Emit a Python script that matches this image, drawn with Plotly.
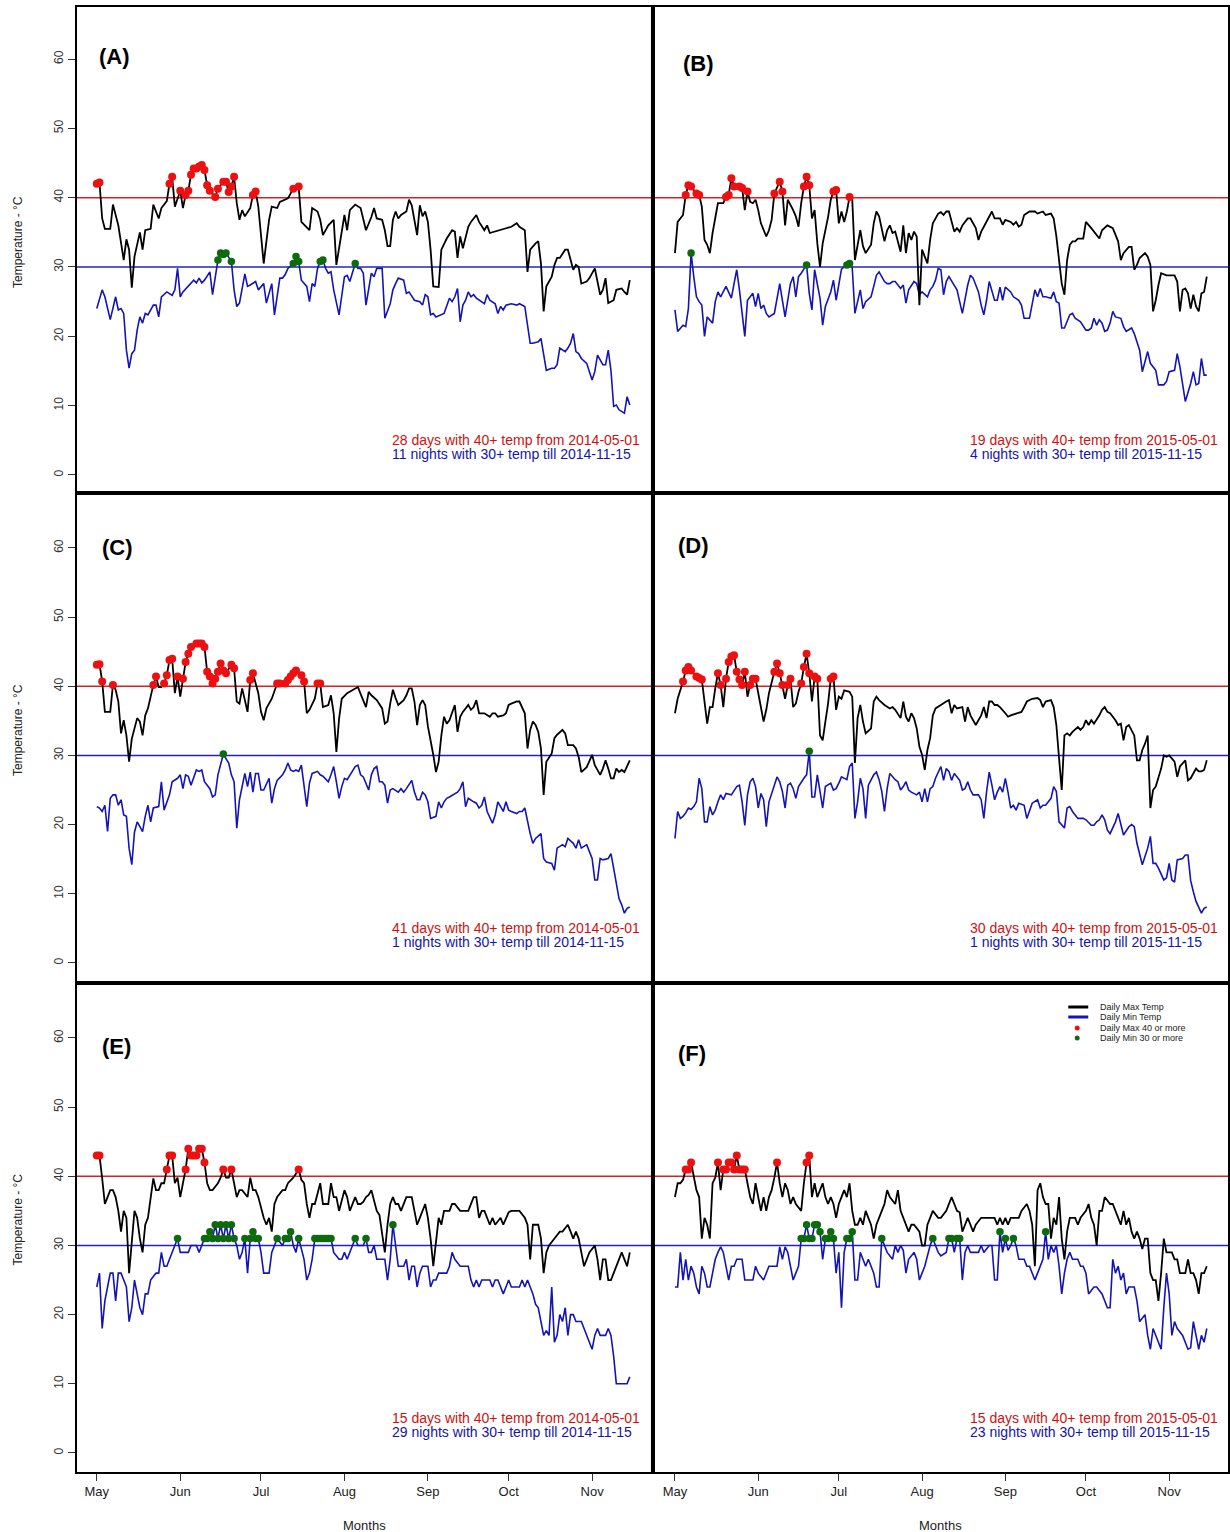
import plotly.graph_objects as go

# ---------------- data ----------------
# day index: 0 = 1 May, 198 = 15 Nov
MONTH_LABELS = ["May", "Jun", "Jul", "Aug", "Sep", "Oct", "Nov"]
MONTH_DAYS = [0, 31, 61, 92, 123, 153, 184]
PANEL_LABELS = ["(A)", "(B)", "(C)", "(D)", "(E)", "(F)"]
HOT_TEXT = [
    "28 days with 40+ temp from 2014-05-01",
    "19 days with 40+ temp from 2015-05-01",
    "41 days with 40+ temp from 2014-05-01",
    "30 days with 40+ temp from 2015-05-01",
    "15 days with 40+ temp from 2014-05-01",
    "15 days with 40+ temp from 2015-05-01",
]
WARM_TEXT = [
    "11 nights with 30+ temp till 2014-11-15",
    "4 nights with 30+ temp till 2015-11-15",
    "1 nights with 30+ temp till 2014-11-15",
    "1 nights with 30+ temp till 2015-11-15",
    "29 nights with 30+ temp till 2014-11-15",
    "23 nights with 30+ temp till 2015-11-15",
]
LEGEND_TEXT = ["Daily Max Temp", "Daily Min Temp", "Daily Max 40 or more", "Daily Min 30 or more"]
MAX_LIMIT = 40
MIN_LIMIT = 30
Y_TICKS = [0, 10, 20, 30, 40, 50, 60]

A_MAX = [(0,42),(1,42.2),(2,37),(3,35.5),(5,35.5),(6,39),(8,36),(10,31),(11,34),(12,32.5),(13,27),(14,31.5),(16,35),(17,32.5),(18,35.3),(20,35.5),(21,39),(23,37),(24,38.5),(26,39.5),(27,42),(28,43),(29,38.7),(31,41),(32,38.5),(33,40.4),(34,41),(35,43.3),(36,44.2),(37,44.2),(38,44.5),(39,44.7),(40,44),(41,41.8),(42,41),(44,40.1),(45,41.3),(47,42.3),(48,42.3),(49,40.8),(50,41.6),(51,43),(52,39.2),(53,36.8),(54,38.2),(55,37.3),(57,38.5),(58,40.4),(59,40.9),(60,38.7),(62,30.5),(63,33.9),(64,36.8),(65,38.7),(67,38.5),(68,39.4),(70,39.7),(71,39.9),(73,41.3),(75,41.6),(76,36.5),(79,35.3),(80,38.5),(82,38),(83,36.8),(84,34.6),(86,36),(88,36.8),(89,30.3),(91,34.9),(92,37.5),(93,35.3),(94,38.2),(96,39),(98,38.5),(100,35.3),(102,37.2),(103,38.5),(104,37),(106,36.8),(107,35.3),(108,33),(109,33),(110,36.8),(111,38),(112,37),(113,37.5),(115,38),(116,39.7),(117,38.9),(118,36.8),(119,34.6),(120,38.9),(121,37.3),(122,38),(123,36.5),(124,32.5),(125,27.2),(127,27.1),(128,32.5),(130,34.1),(132,35.3),(133,35.1),(134,31.3),(135,34.4),(136,32.7),(138,35.8),(139,36.5),(141,37.5),(142,36.5),(144,35.3),(145,36),(146,34.9),(148,35.1),(150,35.3),(152,35.6),(154,35.8),(156,36.3),(157,35.8),(159,35.3),(160,29.3),(161,32.5),(162,33),(163,33.4),(164,33.7),(165,30.5),(166,23.6),(167,27.2),(169,28.6),(170,30.3),(171,31.3),(172,31.3),(174,32.5),(175,32.5),(177,29.6),(178,30.3),(179,30),(180,27.6),(182,27.9),(183,28.4),(185,29.8),(186,27.6),(187,26),(188,26.7),(189,28.4),(190,24.8),(192,25.2),(193,26.7),(195,26.9),(196,26.4),(197,26),(198,28.1)]
A_MIN = [(0,24),(2,26.7),(3,25.7),(5,22.4),(7,25.7),(8,23.8),(9,24),(10,23.3),(11,18),(12,15.4),(13,17.5),(14,18),(15,20.9),(16,22.8),(17,21.9),(18,23.3),(19,23.1),(21,24.5),(22,24.5),(23,22.8),(24,25.7),(26,26.4),(28,25.9),(29,26.7),(30,29.8),(31,25.7),(32,26.4),(34,27.2),(36,28.1),(37,27.7),(38,28.4),(39,27.7),(40,28.1),(42,29.3),(43,26),(45,31),(46,32),(47,31.8),(48,32),(50,30.8),(51,26.7),(52,24.3),(53,24.8),(55,29),(56,27.2),(57,27.4),(59,27.9),(60,26.7),(62,27.6),(63,24.8),(65,27.6),(66,23.1),(68,28.4),(69,28.4),(70,28.9),(71,29.8),(73,30.5),(74,31.5),(75,30.8),(76,28.1),(78,27.2),(79,25),(80,27.6),(81,27.2),(82,29.8),(83,30.8),(84,31),(85,29.8),(86,29.1),(87,29.3),(88,26.7),(90,23.1),(91,25.7),(92,28.6),(93,28.8),(94,27.9),(96,30.5),(97,29.8),(98,29.8),(99,29.1),(100,24.5),(102,29.1),(103,28.6),(104,29.8),(106,29.8),(107,22.6),(109,24.7),(110,26.7),(111,27.6),(112,28.4),(114,28.1),(115,26.2),(116,26.4),(117,25.7),(118,25.2),(120,25),(121,24.5),(122,26),(123,25.7),(124,23.1),(125,23.3),(126,22.8),(128,23.1),(129,23.3),(131,25.5),(132,25),(133,25.7),(134,26.9),(135,22.1),(136,24.5),(137,25.2),(138,26.4),(139,25.7),(140,26),(141,25.5),(143,25),(144,24.7),(145,26),(146,25.2),(148,24.7),(149,23.3),(150,24.3),(151,23.8),(152,24.5),(154,24.7),(156,24.5),(157,24.7),(159,24.3),(160,21.9),(161,19),(162,19),(164,19.2),(165,19.7),(166,17.1),(167,15.1),(169,15.4),(170,15.4),(171,15.9),(172,18.3),(174,17.8),(175,18.3),(176,19),(177,20.4),(178,17.8),(179,17.5),(180,16.8),(182,16.1),(183,14.9),(184,13.7),(185,14.9),(186,17.3),(188,15.9),(189,15.9),(190,18),(191,15.1),(192,9.9),(193,10.1),(194,9.4),(196,8.9),(197,11.3),(198,10.1)]

B_MAX = [(0,32),(1,36.5),(3,37.5),(4,40.4),(5,41.8),(6,41.6),(8,40.6),(9,40.4),(10,38.7),(11,33.9),(12,33.2),(13,32),(14,34.9),(15,36.8),(16,39.2),(18,39.2),(19,40.1),(20,40.4),(21,42.8),(22,41.6),(24,41.6),(25,41.4),(26,38.2),(27,40.9),(28,39.4),(29,39.2),(30,39.7),(31,38.2),(32,36.3),(34,34.4),(35,35.3),(36,36.8),(37,40.6),(39,42.3),(40,40.9),(41,36),(42,39.7),(44,38.2),(45,37.3),(46,35.8),(47,39.2),(48,41.6),(49,43),(50,41.8),(51,37),(52,38.2),(53,33.4),(54,30),(55,33.4),(57,37.2),(58,39.7),(59,40.9),(60,41.1),(61,36.3),(62,38),(63,36.5),(64,38),(65,40.1),(66,39.7),(67,31),(68,33.4),(69,35.3),(70,33),(71,32),(73,33.2),(74,36.3),(75,38),(76,37.3),(78,33.7),(79,35.3),(80,36),(81,34.9),(82,35.1),(84,32.2),(85,36),(86,32),(87,34.9),(88,33.9),(89,35.1),(90,34.4),(91,24.5),(92,32.5),(93,31.5),(94,30.5),(95,33.9),(96,36.3),(98,37.7),(99,37.9),(100,37.5),(101,38),(102,38),(103,36.5),(104,35.1),(105,35.6),(106,35.1),(107,36),(109,37),(110,37),(112,35.6),(113,33.9),(114,35.1),(115,35.8),(117,37.2),(118,38),(119,37),(121,37),(122,36.1),(123,36.8),(125,36.5),(126,36.1),(127,36.5),(128,35.8),(129,36.1),(130,37.5),(132,38),(134,38),(135,37.7),(137,38),(138,37.5),(140,37.7),(141,37),(142,34.4),(143,31),(144,27.6),(145,26),(146,31),(147,33.2),(148,33.7),(149,33.7),(150,34.1),(152,34.1),(153,36.5),(155,35.6),(156,35.1),(157,34.6),(158,34.1),(159,35.3),(160,35.6),(161,36),(163,35.6),(164,34.6),(165,33.7),(166,31),(167,32),(169,32.9),(170,32.9),(171,29.6),(172,30.3),(173,31.3),(175,32),(176,31.5),(177,30.3),(178,23.6),(179,25.2),(180,27.4),(181,29.1),(183,28.8),(185,28.8),(186,28.8),(187,27.9),(188,23.6),(189,26.7),(190,26.9),(191,26.2),(192,24),(193,26),(194,24.3),(195,23.6),(196,26.2),(197,26.4),(198,28.6)]
B_MIN = [(0,23.8),(1,20.7),(3,21.6),(4,21.4),(5,24),(6,32),(7,28.6),(8,25.7),(9,25),(10,24.5),(11,20),(12,22.8),(14,21.9),(15,25),(16,26.4),(17,25.7),(19,27.2),(21,25.5),(22,27.6),(23,29.6),(24,26.7),(25,23.3),(26,20),(27,25.2),(29,26.2),(30,24.3),(31,26.2),(32,24),(33,24.5),(34,23.3),(35,22.8),(37,23.3),(38,25.2),(39,27.6),(40,25.2),(41,22.8),(43,27.6),(44,28.6),(45,25.7),(46,28.6),(47,29.1),(48,29.8),(49,30.3),(50,26.2),(51,23.8),(52,29.6),(54,25.5),(55,21.6),(56,24.3),(58,26.4),(59,28.1),(60,25.2),(61,27.6),(62,29.7),(64,30.3),(65,30.5),(66,29.9),(67,23.3),(69,26.7),(70,24),(71,25),(73,25.7),(74,27.2),(75,28.8),(76,29.3),(78,27.9),(79,27.6),(80,27.6),(81,27.9),(82,27.9),(84,26.9),(85,27.4),(86,24.8),(87,26.7),(89,27.9),(90,27.6),(91,26),(92,26.4),(94,25.7),(95,26.7),(96,27.2),(97,28.1),(98,29.8),(99,29.6),(100,26),(101,27.9),(102,28.6),(104,27.4),(105,26.7),(106,25),(107,23.3),(109,27.4),(110,28.8),(111,28.4),(113,26.4),(114,24.5),(115,23.1),(116,25.2),(117,27.9),(119,25.2),(120,25.2),(121,27.1),(122,25.2),(123,27.1),(125,26.4),(126,25.7),(128,25.2),(129,24.5),(130,22.6),(132,22.6),(133,24.8),(134,26.7),(135,25.7),(136,26.9),(137,25.7),(138,25.7),(140,25.5),(141,26.4),(142,25),(143,24.8),(144,21.2),(145,21.2),(147,23.1),(148,23.3),(149,22.6),(150,22.4),(151,22.1),(153,20.9),(154,20.9),(155,21.2),(156,22.6),(157,21.6),(158,22.4),(159,21.9),(160,20.7),(161,20.9),(162,21.9),(163,23.6),(164,22.8),(166,22.6),(167,21.4),(168,20.7),(170,21.2),(171,20.4),(172,19.2),(173,18),(174,14.9),(176,17.8),(177,16.1),(179,15.1),(180,13),(182,13),(183,13.5),(184,14.9),(186,15.1),(187,17.5),(188,15.6),(189,13.2),(190,10.6),(192,13.2),(193,14.9),(194,13),(195,13.2),(196,16.8),(197,14.4),(198,14.4)]

C_MAX = [(0,43.1),(1,43.2),(2,40.7),(3,36.3),(5,36.3),(6,40.2),(7,39.5),(8,37.8),(9,33.2),(10,35.1),(11,32.9),(12,29.1),(13,32.4),(15,35.4),(16,34.9),(17,32.9),(18,35.8),(19,36.8),(21,40.2),(22,41.4),(23,39.9),(24,39.9),(25,40.4),(26,41.6),(27,43.8),(28,44),(29,39),(30,41.4),(31,38.5),(32,41.1),(33,43.5),(34,44.7),(35,45.7),(37,46.2),(38,46.2),(39,46.2),(40,45.7),(41,42.1),(42,41.4),(43,40.4),(44,41.1),(45,42.1),(46,43.3),(47,42.3),(48,41.9),(50,43.1),(51,42.6),(52,37.8),(53,37.5),(54,39.7),(55,38),(56,36.3),(57,40.9),(58,41.9),(60,39),(61,36.3),(62,35.1),(63,36.8),(65,38.2),(66,39.2),(67,40.4),(68,40.4),(70,40.4),(71,40.9),(72,41.4),(73,41.9),(74,42.3),(76,41.6),(77,40.7),(78,36.1),(79,36.6),(81,38.2),(82,40.4),(83,40.4),(84,37),(86,37.3),(87,38.7),(88,36.1),(89,30.5),(90,35.3),(91,38.2),(93,39),(95,39.5),(97,39.9),(98,38.9),(100,37),(101,39.2),(102,38.7),(104,38),(105,37.3),(106,36.8),(107,34.6),(108,34.9),(109,37.5),(110,39.5),(111,38.3),(112,37.3),(114,38),(115,38.7),(116,39.7),(117,39.7),(118,37.8),(119,34.4),(120,37.3),(121,38),(122,37.3),(123,34.2),(125,30.1),(126,27.6),(127,29.1),(128,32.9),(129,35.6),(130,34.6),(131,35.1),(132,36.3),(133,37.3),(134,33.4),(135,35.6),(136,36.3),(138,37.3),(139,36.6),(140,37),(141,38),(142,36.1),(144,36.1),(146,35.6),(147,36.1),(148,36.1),(149,35.6),(151,35.8),(152,36.1),(153,37.3),(154,37.5),(156,37.8),(157,37.8),(159,36.1),(160,31),(161,33.7),(162,34.9),(163,34.4),(164,33.4),(165,31),(166,24.3),(167,29.1),(169,30.3),(170,32.5),(171,33),(173,33.7),(174,33.2),(175,31.5),(177,31.5),(178,31),(179,29.8),(180,27.6),(182,28.3),(183,29.1),(184,30.1),(185,28.6),(187,27.2),(188,28.1),(189,29.3),(190,28.1),(191,26.7),(192,26.7),(193,28.1),(194,27.6),(195,27.9),(196,27.6),(198,29.3)]
C_MIN = [(0,22.6),(1,22.4),(2,21.9),(3,22.8),(4,19),(5,23.8),(6,24.3),(7,24.3),(8,22.8),(9,23.6),(10,21.4),(11,21.2),(12,16.6),(13,14.2),(14,18.9),(15,20.4),(16,19.7),(17,19),(18,21.2),(19,22.8),(20,20.4),(21,22.4),(23,22.6),(24,26.2),(25,22.1),(27,24.3),(28,26.2),(29,26.4),(30,26.7),(31,27.2),(32,25.2),(33,27.2),(34,27),(35,25.7),(36,26.7),(37,27.9),(38,27.7),(39,27.9),(40,26.2),(42,25.2),(43,24),(44,24.3),(45,27.2),(47,30.2),(49,28.9),(50,27.2),(51,26.2),(52,19.5),(53,23.6),(55,27.4),(56,25.5),(57,27.6),(58,24.7),(59,27.4),(60,27.4),(61,25),(62,25),(64,26.7),(65,23.1),(66,25.2),(67,26.4),(69,27.2),(70,27.9),(71,28.9),(72,27.9),(73,27.7),(74,27.9),(75,27.7),(76,28.6),(77,25.7),(78,22.6),(79,26),(80,27.4),(82,27.7),(83,27.2),(84,27),(86,26.2),(87,27.2),(88,28.4),(89,26.2),(90,23.8),(91,25.5),(92,26.7),(93,26.5),(94,27.2),(96,28.4),(97,28.6),(98,27.2),(99,26.9),(101,25),(102,27.2),(103,28.1),(104,28.4),(105,26.2),(106,26.2),(107,25.7),(108,23.1),(109,25),(110,25.2),(112,24.7),(113,25.2),(114,24.7),(115,25.2),(117,26.4),(118,24.7),(119,23.6),(120,23.6),(121,24.7),(122,24.3),(123,23.3),(124,20.9),(126,21.2),(127,23.3),(128,22.4),(129,23.3),(130,23.8),(131,24),(133,24.5),(134,24.7),(135,25.2),(136,26.2),(137,22.6),(138,23.8),(140,23.3),(141,23.1),(142,22.4),(143,22.8),(144,24),(145,21.9),(147,20.2),(148,21.4),(149,23.3),(151,21.9),(152,23.3),(153,22.1),(154,21.9),(156,21.6),(157,21.9),(158,21.9),(159,22.4),(160,20.4),(161,18.7),(162,17.3),(163,18),(165,18.7),(166,15.1),(167,14.6),(169,14.4),(170,13.4),(171,16.6),(173,17.1),(174,16.8),(175,18),(177,17.3),(178,16.6),(179,17.8),(180,16.6),(182,17.1),(183,16.1),(184,15.1),(185,12),(186,12),(187,15.1),(188,14.9),(190,15.1),(191,15.8),(192,13.7),(193,11.5),(194,9.3),(195,8.4),(196,7.2),(197,7.9),(198,8.1)]

D_MAX = [(0,36.1),(1,38.2),(3,40.7),(4,42.3),(5,42.8),(6,42.3),(8,41.4),(9,41.2),(10,41),(11,37.8),(12,34.6),(13,37),(14,37),(15,39.7),(16,41.9),(17,40.2),(18,37),(19,41.1),(20,43.5),(21,44.3),(22,44.5),(23,42.1),(24,41),(25,40.2),(26,42.1),(27,38.5),(28,40.2),(29,41.1),(30,41.1),(31,39),(33,34.9),(34,36.6),(35,39),(37,42.1),(38,43.3),(39,41.9),(40,40.2),(41,38.2),(42,40.2),(43,41.1),(44,37),(45,37.5),(46,39.2),(47,40.4),(48,42.8),(49,44.7),(50,41.9),(51,37.8),(52,41.4),(53,41.1),(54,32.9),(55,32.2),(56,34.9),(57,37.5),(58,41.1),(59,41.4),(60,36.6),(61,38.5),(62,38.2),(63,39.4),(65,39.2),(66,38.5),(67,28.9),(68,35.4),(69,37.3),(70,34.9),(71,33.2),(73,33.9),(74,37.8),(75,38.5),(76,38),(78,37.3),(80,36.8),(81,37),(82,36.6),(84,35.4),(85,37.8),(86,35.6),(87,34.9),(88,36.1),(89,35.4),(90,33.9),(91,31.3),(92,30.1),(93,27.9),(94,30.8),(95,32.5),(96,35.8),(97,36.8),(98,37),(99,37.3),(101,37.8),(102,38),(103,36.1),(104,37.3),(105,36.8),(107,37),(108,34.9),(109,37),(110,35.8),(111,35.1),(112,34.4),(114,35.8),(115,37),(116,35.4),(117,37.8),(118,37.8),(119,37.3),(120,37.3),(121,37),(123,36.1),(124,35.6),(125,35.8),(127,36.1),(129,36.3),(130,37),(131,37.8),(133,38.2),(135,38.3),(136,38),(137,37),(138,37.8),(140,38),(141,37),(142,34.4),(143,29.6),(144,25),(145,32.9),(146,33.2),(147,32.9),(148,33.4),(150,34.1),(151,33.7),(152,34.1),(153,35.1),(154,34.4),(155,35.1),(156,34.6),(158,35.8),(159,36.6),(160,37),(161,36.3),(162,36.1),(164,35.1),(165,34.4),(166,34.6),(167,32.2),(168,34.1),(169,34.4),(171,32.9),(172,29.3),(173,29.3),(174,30.8),(175,31.7),(176,32.9),(177,22.4),(178,25),(179,25.5),(181,28.1),(182,30),(183,29.8),(184,30),(185,29.6),(186,29.1),(187,26.9),(188,28.4),(190,29.3),(191,26.4),(192,26.7),(194,28.1),(195,27.7),(196,27.7),(197,27.9),(198,29.3)]
D_MIN = [(0,18),(1,21.9),(2,20.9),(3,21.2),(4,21.7),(5,22.4),(6,22.2),(7,22.6),(8,23.3),(9,26.7),(10,25.2),(11,20.4),(12,20.4),(13,22.6),(14,21.4),(15,22.1),(16,23.3),(17,24.3),(18,23.6),(19,24.5),(21,24.3),(22,25),(23,25.5),(24,25.7),(25,23.3),(26,19.9),(27,24.3),(28,26.2),(29,26.7),(30,25.5),(31,22.4),(32,24.5),(33,23.6),(34,19.7),(35,23.3),(37,25.7),(38,26.9),(39,26.2),(40,24.8),(41,22.4),(42,25.7),(43,26),(44,25.2),(45,23.8),(46,25.5),(48,26.7),(49,27.2),(50,30.6),(51,24),(52,24),(53,27.2),(54,24.8),(55,22.4),(56,25.5),(58,26),(59,25),(60,25.2),(61,26),(62,26.9),(64,26.5),(65,28.4),(66,28.9),(67,20.9),(68,23.3),(69,26.7),(70,25.2),(71,20.9),(72,25.7),(74,27.2),(75,27.6),(76,26.5),(77,24.8),(78,21.9),(79,25.2),(80,27.4),(82,26.5),(83,26.2),(84,25),(85,25.5),(86,26.2),(87,25),(88,24.7),(90,24.3),(91,24.7),(92,23.3),(93,25.2),(94,23.3),(95,25.2),(96,25.5),(97,26.7),(98,27.5),(99,28.4),(100,26.4),(101,28.1),(102,27.7),(103,26.4),(104,27.4),(105,26.9),(106,26.4),(107,25),(108,25.2),(109,26.2),(110,25),(111,24.3),(113,24.3),(114,23.6),(115,20.9),(116,24.7),(117,27.6),(118,25.7),(119,23.6),(120,24.7),(121,25.5),(122,24.7),(123,26.7),(124,24.7),(125,22.4),(126,22.8),(127,22.1),(128,23.1),(130,22.8),(131,20.9),(132,22.1),(133,23.1),(135,23.6),(136,22.4),(137,22.8),(138,22.8),(140,23.8),(141,25.5),(142,24.8),(143,20.4),(145,19.5),(146,22.4),(147,22.6),(148,21.9),(150,20.9),(151,20.9),(152,20.9),(153,20.7),(155,19.9),(156,19.9),(157,20.4),(158,20.7),(159,21.4),(160,20.7),(161,19.2),(162,18.7),(164,20.4),(165,21.6),(166,20),(167,18.5),(169,19.7),(170,20),(171,19.7),(172,17.3),(174,14.2),(175,15.4),(176,16.6),(177,18.3),(178,14.4),(179,14.4),(180,13.7),(182,12),(183,12.3),(184,14.4),(185,12),(186,11.7),(187,14.9),(189,15.1),(190,15.6),(191,15.6),(192,11.9),(193,10.3),(194,8.9),(196,7.2),(197,7.9),(198,8.1)]

E_MAX = [(0,43),(1,43),(2,39.7),(3,36),(4,37),(5,38),(6,38),(7,37),(8,35),(9,32),(10,35),(11,34),(12,26),(13,30),(14,35),(15,34),(16,31),(17,29),(18,33),(19,34),(20,37),(21,39.7),(22,38),(23,38),(24,39),(25,39),(26,41),(27,43),(28,43),(29,39),(30,39.8),(31,37),(32,39),(33,41),(34,44),(35,43),(36,43),(37,43),(38,44),(39,44),(40,42),(41,39),(42,38),(43,38),(45,39),(46,39.8),(47,41),(48,39.8),(49,39.8),(50,41),(51,39),(52,37),(53,38),(54,38),(56,37),(57,39.8),(58,38),(59,38),(60,37),(62,34),(63,33),(64,34),(65,32),(66,36),(67,37),(69,38),(70,38),(71,39),(73,39.8),(75,41),(76,39.5),(77,39),(78,36),(79,34),(80,36),(81,36),(83,39),(84,36),(86,36),(87,39),(88,37),(89,37),(90,35),(92,38),(93,37),(94,35),(96,37),(97,36),(98,36),(99,36.3),(100,37),(101,37.3),(102,38),(103,36.5),(104,35),(105,34.4),(106,32),(107,29),(108,33),(109,36),(110,37),(111,36),(112,36),(113,35),(115,37),(116,37),(117,37),(118,35),(119,33),(120,34),(122,36),(123,34),(124,31),(125,27),(126,31),(127,34),(128,33),(129,35),(131,35),(132,36),(133,36),(135,35),(136,35),(138,35),(140,37),(141,37),(142,34),(143,35),(144,35),(145,34),(146,33),(147,34),(148,33),(149,33.5),(150,34),(151,33),(152,34),(153,34.8),(154,35),(156,35),(157,35),(159,34),(160,33),(161,28),(162,33),(163,33),(164,33),(165,31),(166,26),(167,29),(168,30),(169,30.5),(170,31),(172,32),(173,32),(175,33),(176,32),(177,31),(178,32),(179,31),(180,29),(181,27),(182,28),(183,29),(185,30),(186,28),(187,25),(188,28),(189,28),(190,25),(191,25),(192,26),(194,28),(195,29),(196,28),(197,27),(198,29)]
E_MIN = [(0,24),(1,26),(2,18),(3,22),(4,24),(5,26),(6,26),(7,22),(8,26),(9,26),(10,25),(11,24),(12,19),(13,21),(14,25),(15,23),(16,21),(17,20),(18,23),(19,23),(20,25),(21,25.5),(22,26),(23,26),(24,29),(25,27),(26,27),(27,28),(28,29),(30,31),(31,29),(32,29),(34,29),(35,30),(37,30),(38,29),(39,30),(40,31),(41,31),(42,32),(43,31),(44,33),(45,31),(46,33),(47,31),(48,33),(49,31),(50,33),(51,31),(52,30),(53,28),(54,29),(55,31),(56,26),(57,31),(58,32),(59,31),(60,31),(61,29),(62,26),(64,26),(65,29),(66,30),(67,31),(69,30),(70,31),(71,31),(72,32),(73,30),(74,29),(75,31),(77,28),(78,25),(79,26),(80,28),(81,31),(82,31),(83,31),(84,31),(85,31),(86,31),(87,31),(88,29),(90,28),(91,28),(92,29),(93,28),(95,30),(96,31),(97,30),(98,30),(99,30),(100,31),(101,29),(102,29),(103,30),(104,28),(106,28),(107,28),(108,25),(109,28),(110,33),(111,30),(112,27),(113,27),(114,27),(115,28),(116,25),(117,27),(118,27),(119,24),(120,26),(121,27),(122,27),(123,27),(124,24),(125,25),(126,25),(127,26),(129,26),(130,26),(131,27),(132,29),(133,28),(135,27),(136,27),(138,27),(139,25),(140,24),(141,25),(142,24),(143,25),(144,25),(146,25),(147,24),(148,25),(149,25),(150,24),(151,23),(152,24),(153,25),(154,24),(156,24),(157,24),(158,25),(159,24),(160,25),(161,24),(162,23),(163,21.5),(164,21),(165,19),(166,17),(167,17.7),(168,17),(169,24),(170,16),(171,17),(172,20),(173,19),(174,21),(175,17),(176,20),(177,20),(178,19),(180,19),(181,18),(182,17),(184,15),(185,17),(186,18),(187,17),(189,17),(190,18),(191,17),(192,14),(193,10),(195,10),(197,10),(198,11)]

F_MAX = [(0,37),(1,39),(2,39),(3,39.5),(4,41),(5,41),(6,42),(7,39.7),(8,38),(9,37),(10,31),(11,34),(12,33),(13,31),(14,39),(15,39.8),(16,42),(17,38),(18,41),(19,41),(20,42),(21,42),(22,41),(23,43),(24,41),(25,41),(26,41),(27,39),(28,37),(29,36),(30,39),(31,37),(32,35),(33,37),(34,35),(35,37),(36,38),(37,39.8),(38,42),(39,39),(40,37),(41,39),(42,38),(43,36),(44,37),(45,36),(47,35),(48,39),(49,42),(50,43),(51,37),(52,39),(53,37),(54,38),(55,39),(56,37),(57,36),(58,37),(59,36),(60,34),(61,36),(62,37),(63,38),(64,37),(65,39),(66,35),(67,33),(68,33),(69,34),(70,33),(71,35),(72,34),(73,33),(74,31),(75,33),(77,35),(78,36),(79,38),(80,37),(82,36),(83,38),(84,35),(85,34),(87,32),(88,33),(89,33),(91,32),(92,30),(93,30),(94,33),(95,34),(96,35),(98,34),(99,34),(101,35),(102,36),(103,37),(104,36),(105,35),(106,34.8),(107,32),(108,33),(109,34),(110,33),(111,32),(112,33),(114,34),(116,34),(117,34),(119,34),(120,33),(121,34),(122,33),(123,34),(124,33),(125,34),(127,34),(128,34),(129,35),(131,36),(132,35),(133,33),(134,27),(135,38),(136,39),(137,37),(138,36),(139,36),(140,31),(141,34),(142,33),(143,37),(144,31),(145,28),(146,32),(147,34),(149,34),(150,33),(151,34),(153,35),(154,36),(155,34),(156,33),(157,30),(158,35),(159,35),(160,37),(162,36),(163,36),(164,35),(165,34),(166,33),(167,35),(168,33),(169,34),(170,32),(171,31),(172,32),(173,31),(174,29.5),(175,31),(176,31),(177,26),(178,25),(179,25),(180,22),(181,26),(182,31),(183,29),(184,29),(185,29),(186,28),(187,28),(188,26),(189,26),(190,26),(191,28),(192,26),(193,26),(194,25),(195,23),(196,26),(197,26),(198,27)]
F_MIN = [(0,24),(1,24),(2,29),(3,25),(4,28),(5,25),(6,27),(7,26),(8,24),(9,23),(10,27),(11,26),(12,24),(13,24),(14,26),(15,28),(16,29),(17,29.8),(18,29),(19,27),(20,25),(21,27),(22,27),(23,28),(24,28),(25,28),(26,25),(27,25),(29,25),(30,27),(31,26),(33,25),(34,26),(35,27),(37,27),(38,27),(39,29.8),(40,28),(41,29.8),(42,29),(43,27),(44,25),(45,26),(46,27),(47,31),(48,31),(49,33),(50,31),(51,31),(52,33),(53,33),(54,32),(55,28),(56,31),(57,31),(58,32),(59,31),(60,26),(61,29),(62,21),(63,29),(64,31),(65,31),(66,32),(67,25),(68,25),(69,29),(70,28),(71,27),(72,28),(74,26),(75,24),(76,24),(77,31),(78,30),(79,29),(81,28),(82,30),(83,29),(84,30),(85,29.3),(86,26),(87,28),(89,29),(90,28),(91,25),(92,26),(93,27),(95,30),(96,31),(97,30),(98,29),(99,28.5),(101,29),(102,31),(103,31),(104,29),(105,31),(106,31),(107,25),(108,29),(109,30),(110,29),(112,29),(113,29),(114,30),(115,29),(117,30),(118,30),(119,25),(120,25),(121,32),(122,29),(123,31),(124,29.3),(125,30),(126,31),(127,30),(128,28),(130,28),(131,27),(132,27),(134,25),(135,26),(136,27),(137,28),(138,32),(139,28),(140,30),(141,29),(142,30),(143,27),(144,23),(145,26),(146,28),(147,29),(148,28),(150,28),(151,27),(152,27),(153,26),(154,23),(156,24),(157,24),(159,23),(161,21),(162,21),(163,28),(164,26),(165,27),(166,25),(167,26),(168,23),(169,24),(170,24),(171,24),(172,22),(173,19),(175,20),(176,17),(177,15),(178,18),(180,16),(181,15),(182,21),(183,26),(184,23),(185,17),(186,19),(187,18),(189,17),(190,16),(191,15),(192,15.2),(193,19),(194,17),(195,15),(196,17),(197,16),(198,18)]

PANEL_MAX = [A_MAX, B_MAX, C_MAX, D_MAX, E_MAX, F_MAX]
PANEL_MIN = [A_MIN, B_MIN, C_MIN, D_MIN, E_MIN, F_MIN]

# ---------------- layout geometry (pixels of the 1230 x 1532 page) ----------------
W, H = 1230, 1532
FONT = "Liberation Sans, Arial, sans-serif"
COL_PX = [(77, 654), (654, 1230)]
ROW_PX = [(7, 493), (493, 983), (983, 1472)]
X_RANGE = [(-7.4, 206.6), (-8.2, 205.9)]
Y_RANGE = [(-2.6, 67.5), (-2.9, 67.95), (-2.75, 67.95)]
LABEL_POS = [(0, 60.3), (2.2, 59.4), (1.1, 60.1), (0.4, 60.4), (1.1, 58.7), (0.4, 57.8)]

RED_LINE = "#d02424"
BLUE_LINE = "#2222c4"
MIN_COLOR = "#1414b4"
RED_DOT = "#ee1010"
GREEN_DOT = "#0d6b0d"


def fx(p):
    return p / W


def fy(p):
    return 1 - p / H


fig = go.Figure()
layout = dict(
    width=W, height=H, margin=dict(l=0, r=0, t=0, b=0),
    paper_bgcolor="white", plot_bgcolor="white", showlegend=False,
    font=dict(family=FONT, color="#222222"),
)
shapes = []
annotations = []

for i in range(6):
    row, col = divmod(i, 2)
    n = i + 1
    xs = "x" if n == 1 else f"x{n}"
    ys = "y" if n == 1 else f"y{n}"
    xk = "xaxis" if n == 1 else f"xaxis{n}"
    yk = "yaxis" if n == 1 else f"yaxis{n}"
    bottom = row == 2
    left = col == 0
    layout[xk] = dict(
        domain=[fx(COL_PX[col][0]), fx(COL_PX[col][1])], anchor=ys,
        range=list(X_RANGE[col]), showgrid=False, zeroline=False,
        showline=True, mirror=True, linecolor="black", linewidth=1.5,
        tickmode="array", tickvals=MONTH_DAYS, ticktext=MONTH_LABELS,
        ticks="outside" if bottom else "", ticklen=7, tickcolor="#333",
        showticklabels=bottom, tickfont=dict(size=13, color="#222"),
    )
    layout[yk] = dict(
        domain=[fy(ROW_PX[row][1]), fy(ROW_PX[row][0])], anchor=xs,
        range=list(Y_RANGE[row]), showgrid=False, zeroline=False,
        showline=True, mirror=True, linecolor="black", linewidth=1.5,
        tickmode="array", tickvals=Y_TICKS,
        ticks="outside" if left else "", ticklen=7, tickcolor="#333",
        showticklabels=left, tickangle=-90, tickfont=dict(size=12, color="#333"),
    )

    mx = PANEL_MAX[i]
    mn = PANEL_MIN[i]
    fig.add_trace(go.Scatter(
        x=[d for d, _ in mn], y=[v for _, v in mn], mode="lines",
        line=dict(color=MIN_COLOR, width=1.6), xaxis=xs, yaxis=ys, name=LEGEND_TEXT[1]))
    fig.add_trace(go.Scatter(
        x=[d for d, _ in mx], y=[v for _, v in mx], mode="lines",
        line=dict(color="black", width=1.8), xaxis=xs, yaxis=ys, name=LEGEND_TEXT[0]))
    hot = [(d, v) for d, v in mx if v > MAX_LIMIT]
    warm = [(d, v) for d, v in mn if v > MIN_LIMIT]
    fig.add_trace(go.Scatter(
        x=[d for d, _ in hot], y=[v for _, v in hot], mode="markers",
        marker=dict(color=RED_DOT, size=8), xaxis=xs, yaxis=ys, name=LEGEND_TEXT[2]))
    fig.add_trace(go.Scatter(
        x=[d for d, _ in warm], y=[v for _, v in warm], mode="markers",
        marker=dict(color=GREEN_DOT, size=7.5), xaxis=xs, yaxis=ys, name=LEGEND_TEXT[3]))

    # threshold lines
    shapes.append(dict(type="line", xref=f"{xs} domain", yref=ys, x0=0, x1=1,
                       y0=MAX_LIMIT, y1=MAX_LIMIT, line=dict(color=RED_LINE, width=1.5), layer="below"))
    shapes.append(dict(type="line", xref=f"{xs} domain", yref=ys, x0=0, x1=1,
                       y0=MIN_LIMIT, y1=MIN_LIMIT, line=dict(color=BLUE_LINE, width=1.5), layer="below"))

    # panel label
    lx, ly = LABEL_POS[i]
    annotations.append(dict(xref=xs, yref=ys, x=lx, y=ly, text=f"<b>{PANEL_LABELS[i]}</b>",
                            showarrow=False, xanchor="left", yanchor="middle",
                            font=dict(size=22, color="black", family=FONT)))
    # summary text
    annotations.append(dict(xref=xs, yref=ys, x=109, y=5.1, text=HOT_TEXT[i], showarrow=False,
                            xanchor="left", yanchor="middle", font=dict(size=14, color="#d01010", family=FONT)))
    annotations.append(dict(xref=xs, yref=ys, x=109, y=3.0, text=WARM_TEXT[i], showarrow=False,
                            xanchor="left", yanchor="middle", font=dict(size=14, color="#1414a8", family=FONT)))

    if left:
        cy = (ROW_PX[row][0] + ROW_PX[row][1]) / 2 - 8
        annotations.append(dict(xref="paper", yref="paper", x=fx(18), y=fy(cy), text="Temperature - °C",
                                textangle=-90, showarrow=False, xanchor="center", yanchor="middle",
                                font=dict(size=12, color="#222", family=FONT)))
    if bottom:
        cx = (COL_PX[col][0] + COL_PX[col][1]) / 2
        annotations.append(dict(xref="paper", yref="paper", x=fx(cx), y=fy(1525), text="Months",
                                showarrow=False, xanchor="center", yanchor="middle",
                                font=dict(size=13, color="#222", family=FONT)))

# thick panel dividers
shapes.append(dict(type="line", xref="paper", yref="paper", x0=fx(654), x1=fx(654),
                   y0=fy(1472), y1=fy(7), line=dict(color="black", width=4)))
for yy in (493, 983):
    shapes.append(dict(type="line", xref="paper", yref="paper", x0=fx(77), x1=1,
                       y0=fy(yy), y1=fy(yy), line=dict(color="black", width=3.5)))

# legend drawn inside panel F
LEG_Y = [1007, 1017, 1028, 1038]
shapes.append(dict(type="line", xref="paper", yref="paper", x0=fx(1070), x1=fx(1090),
                   y0=fy(LEG_Y[0]), y1=fy(LEG_Y[0]), line=dict(color="black", width=3)))
shapes.append(dict(type="line", xref="paper", yref="paper", x0=fx(1070), x1=fx(1090),
                   y0=fy(LEG_Y[1]), y1=fy(LEG_Y[1]), line=dict(color=MIN_COLOR, width=3)))
for yy, colr in ((LEG_Y[2], RED_DOT), (LEG_Y[3], GREEN_DOT)):
    shapes.append(dict(type="circle", xref="paper", yref="paper", x0=fx(1076.5), x1=fx(1081.5),
                       y0=fy(yy + 2.5), y1=fy(yy - 2.5), fillcolor=colr, line=dict(color=colr, width=0)))
for yy, txt in zip(LEG_Y, LEGEND_TEXT):
    annotations.append(dict(xref="paper", yref="paper", x=fx(1100), y=fy(yy), text=txt, showarrow=False,
                            xanchor="left", yanchor="middle", font=dict(size=9, color="#222", family=FONT)))

layout["shapes"] = shapes
layout["annotations"] = annotations
fig.update_layout(**layout)
fig.write_html("out.html")
